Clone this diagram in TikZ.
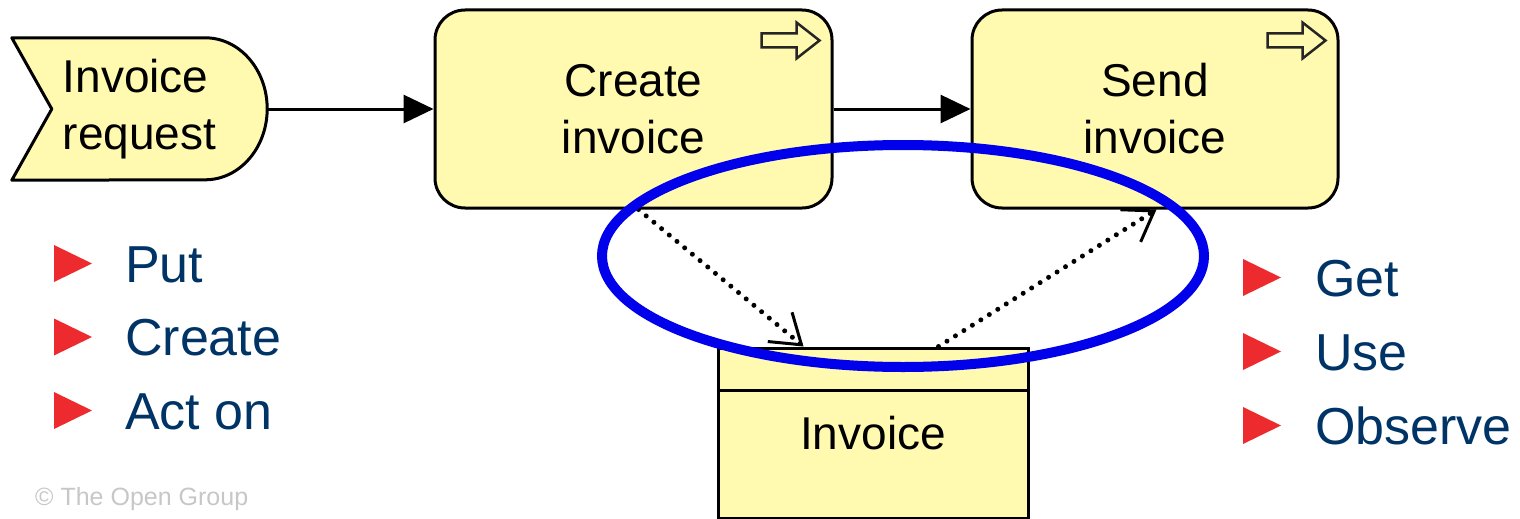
\documentclass[tikz,border=0pt]{standalone}
\usepackage{fontspec}
\setmainfont{Liberation Sans}
\usetikzlibrary{arrows.meta}
\pgfdeclarelayer{edgelayer}
\pgfdeclarelayer{nodelayer}
\pgfsetlayers{edgelayer,nodelayer,main}
\definecolor{boxfill}{RGB}{255,250,175}
\definecolor{navy}{RGB}{0,51,102}
\definecolor{bulletred}{RGB}{237,43,46}
\definecolor{ringblue}{RGB}{0,0,235}
\tikzstyle{none}=[inner sep=0pt]
\tikzstyle{event}=[inner sep=0pt,minimum width=255pt,minimum height=142pt,align=left,font=\fontsize{46}{57}\selectfont]
\tikzstyle{outline}=[fill=boxfill,draw=black,line width=3pt,line join=round]
\tikzstyle{process}=[rectangle,rounded corners=30pt,fill=boxfill,draw=black,line width=3pt,minimum height=198pt,align=center,font=\fontsize{46}{57}\selectfont]
\tikzstyle{object}=[rectangle,fill=boxfill,draw=black,line width=3pt,minimum width=310pt,minimum height=170pt,font=\fontsize{46}{57}\selectfont]
\tikzstyle{flow}=[-{Triangle[length=30pt,width=28pt]},draw=black,line width=3pt]
\tikzstyle{access}=[-{Straight Barb[length=28pt,width=38pt,line width=3pt]},draw=black,line width=5pt,line cap=round,dash pattern=on 0pt off 10pt]
\tikzstyle{icon}=[draw=black!85,fill=boxfill,line width=2.5pt]
\tikzstyle{ring}=[draw=ringblue,line width=10pt]
\tikzstyle{item}=[text=navy,anchor=base west,inner sep=0pt,font=\fontsize{52}{60}\selectfont]

\begin{document}
\begin{tikzpicture}[x=1pt,y=1pt]
	\useasboundingbox (0,0) rectangle (1520,-519);
	\begin{pgfonlayer}{nodelayer}
		\node [style=event] (0) at (139.5,-109) {Invoice\\request};
		\node [style=process,minimum width=397pt] (1) at (633.5,-109) {Create\\invoice};
		\node [style=process,minimum width=366pt] (2) at (1155,-109) {Send\\invoice};
		\node [style=object] (3) at (873,-433) {Invoice};
		\draw [line width=3pt] ([yshift=-44pt]3.north west) to ([yshift=-44pt]3.north east);
		\foreach \n in {1,2}
			\draw [style=icon] ([shift={(-72pt,-25pt)}]\n.north east) -- ++(35,0) -- ++(0,11) -- ++(23,-18) -- ++(-23,-18) -- ++(0,11) -- ++(-35,0) -- cycle;
		\node [style=none,text=black!22,anchor=base west,font=\fontsize{25}{29}\selectfont] (4) at (35,-505) {\textcopyright{} The Open Group};
	\end{pgfonlayer}
	\begin{pgfonlayer}{edgelayer}
		\draw [style=outline] (0.north west) -- ([xshift=-62pt]0.north east) arc [start angle=90,end angle=-90,x radius=62pt,y radius=71pt] -- (0.south west) -- ([xshift=40pt]0.west) -- cycle;
		\draw [style=flow] (0.east) to (1.west);
		\draw [style=flow] (1.east) to (2.west);
		\draw [style=access] ([xshift=205pt]1.south west) to ([xshift=87pt]3.north west);
		\draw [style=access] ([xshift=222pt]3.north west) to ([xshift=-183pt]2.south east);
	\end{pgfonlayer}
	% access highlight
	\draw [style=ring] (903,-256) ellipse [x radius=301pt,y radius=111pt];
	% bullet lists
	\foreach \t [count=\i] in {Put,Create,Act on} {
		\pgfmathsetmacro\b{-208.5-73.5*\i}
		\fill [bulletred] (54,\b) -- (54,\b+37) -- (92,\b+18.5) -- cycle;
		\node [style=item] (l\i) at (125,\b) {\t};
	}
	\foreach \t [count=\i] in {Get,Use,Observe} {
		\pgfmathsetmacro\b{-222-74*\i}
		\fill [bulletred] (1243,\b) -- (1243,\b+37) -- (1281,\b+18.5) -- cycle;
		\node [style=item] (r\i) at (1315,\b) {\t};
	}
\end{tikzpicture}
\end{document}
